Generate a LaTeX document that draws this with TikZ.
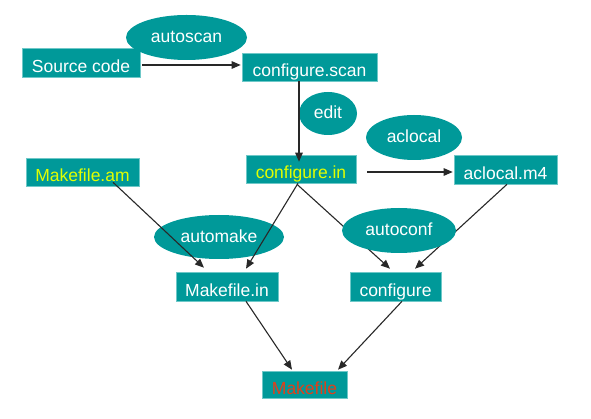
\documentclass[tikz,border=0pt]{standalone}
\usepackage{fontspec}
\setmainfont{Liberation Sans}
\usetikzlibrary{shapes.geometric,arrows.meta,calc}
\definecolor{teal1}{RGB}{0,153,153}
\definecolor{tealedge}{RGB}{110,200,200}
\definecolor{ylw}{RGB}{226,255,0}
\definecolor{redtxt}{RGB}{228,62,24}
\definecolor{arr}{RGB}{40,40,40}
\begin{document}
\begin{tikzpicture}[x=1pt,y=-1pt,
  font=\fontsize{17.5}{20}\selectfont,
  box/.style={rectangle,fill=teal1,draw=tealedge,line width=0.6pt,inner sep=0pt,
    text=white,text height=22pt,text depth=2pt},
  oval/.style={ellipse,fill=teal1,inner sep=0pt,text=white,text height=11pt,text depth=0pt},
  link/.style={draw=arr,line width=1.1pt,-{Triangle[length=9pt,width=7.5pt]},shorten >=0pt}
]
\useasboundingbox (0,0) rectangle (591,419);
% boxes
\node[box,minimum width=118pt,minimum height=29pt] (sc) at (81,62.5) {Source code};
\node[box,minimum width=135pt,minimum height=28pt] (cs) at (309.5,67) {configure.scan};
\node[box,minimum width=110pt,minimum height=28pt,text=ylw] (ci) at (301,169) {configure.in};
\node[box,minimum width=103pt,minimum height=29pt] (am4) at (505.5,169.5) {aclocal.m4};
\node[box,minimum width=113pt,minimum height=28pt,text=ylw] (mam) at (82.5,172) {Makefile.am};
\node[box,minimum width=102pt,minimum height=29pt] (min) at (227,286.5) {Makefile.in};
\node[box,minimum width=91pt,minimum height=29pt] (cfg) at (395.5,286.5) {configure};
\node[box,minimum width=85pt,minimum height=27pt,text=redtxt] (mk) at (304.5,384.5) {Makefile};
% ellipses (below lines)
\node[oval,minimum width=121pt,minimum height=45pt] (autoscan) at (186.5,37.5) {autoscan};
\node[oval,minimum width=58pt,minimum height=43pt] (edit) at (328,113.5) {edit};
\node[oval,minimum width=96pt,minimum height=45pt] (aclocal) at (414,137.5) {aclocal};
\node[oval,minimum width=130pt,minimum height=44pt] (automake) at (219,237) {automake};
% connectors
\draw[link] ($(sc.east)+(2,2.5)$) -- ($(cs.west)+(-1,-2)$);
\draw[link] ($(cs.south)+(-10.5,0)$) -- ($(ci.north)+(-2,7)$);
\draw[link] ($(ci.east)+(11,3)$) -- ($(am4.west)+(-1,2.5)$);
\draw[link] ($(mam.south)+(30.5,-4)$) -- ($(min.north)+(-23,-4)$);
\draw[link] ($(ci.south)+(-3,0)$) -- ($(min.north)+(19,-3)$);
\draw[link] ($(ci.south)+(-4,1)$) -- ($(cfg.north)+(-5.5,-3)$);
\draw[link] ($(am4.south)+(1.5,0)$) -- ($(cfg.north)+(19.5,-3)$);
\draw[link] ($(min.south)+(19,0)$) -- ($(mk.north)+(-12.5,-1)$);
\draw[link] ($(cfg.south)+(6.5,0)$) -- ($(mk.north)+(33.5,-1)$);
% ellipse above lines
\node[oval,minimum width=114pt,minimum height=45pt] (autoconf) at (399,230.5) {autoconf};
\end{tikzpicture}
\end{document}
